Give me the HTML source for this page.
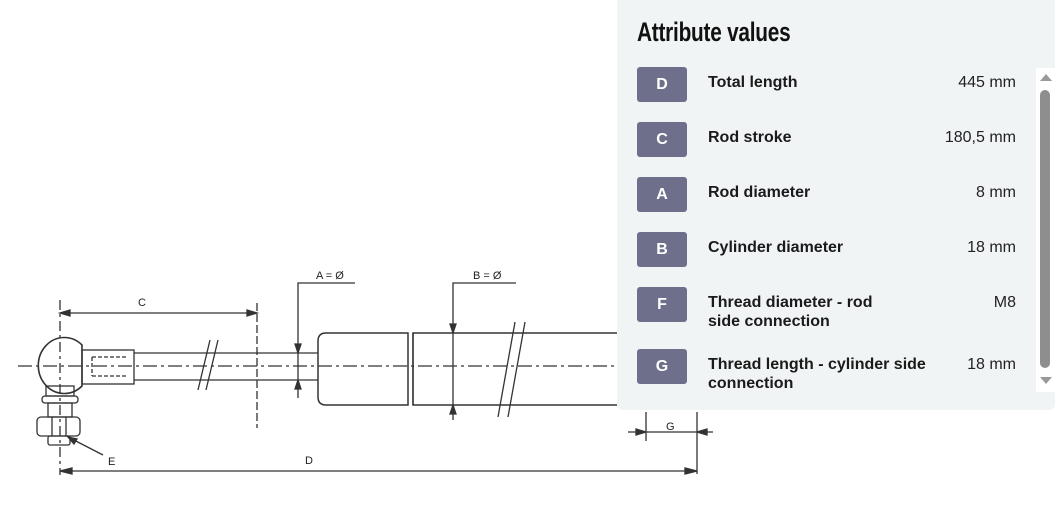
<!DOCTYPE html>
<html><head><meta charset="utf-8"><style>
html,body{margin:0;padding:0;background:#fff;width:1057px;height:520px;overflow:hidden;position:relative;font-family:"Liberation Sans",sans-serif}
svg{position:absolute;left:0;top:0}
.panel{position:absolute;left:617px;top:0;width:438px;height:410px;background:#f1f4f5;border-radius:0 0 6px 6px}
.title{position:absolute;left:20px;top:17px;font-size:27px;font-weight:bold;color:#111;font-family:"Liberation Sans Narrow","Liberation Sans",sans-serif;transform:scaleX(0.77);transform-origin:left top;letter-spacing:-0.3px}
.badge{position:absolute;left:20px;width:50px;height:35px;background:#6e6f8b;border-radius:3px;color:#fff;font-weight:bold;font-size:16px;text-align:center;line-height:36px}
.lab{position:absolute;left:91px;font-size:16px;font-weight:bold;color:#1a1a1a;line-height:19px}
.val{position:absolute;right:39px;font-size:16px;color:#222;line-height:19px;text-align:right}
.track{position:absolute;left:419px;top:68px;width:19px;height:324px;background:#fff}
.thumb{position:absolute;left:423px;top:90px;width:10px;height:278px;background:#8e8e8e;border-radius:5px}
</style></head><body>
<svg width="1057" height="520" viewBox="0 0 1057 520" fill="none" stroke="#333" stroke-width="1.3">
<line x1="18" y1="366" x2="617" y2="366" stroke-dasharray="14,4,3,4"/>
<path d="M82 345 A26 28 0 1 0 82 386 L82 345 Z" stroke-width="1.6"/>
<line x1="60" y1="300" x2="60" y2="475" stroke-dasharray="10,4,3,4"/>
<rect x="46" y="386" width="28" height="10"/>
<rect x="42" y="396" width="36" height="7" rx="3"/>
<rect x="48" y="403" width="24" height="14"/>
<rect x="37" y="417" width="43" height="19" rx="4"/>
<line x1="52" y1="417" x2="52" y2="436"/><line x1="66" y1="417" x2="66" y2="436"/>
<rect x="48" y="436" width="22" height="9" rx="2"/>
<rect x="82" y="350" width="52" height="34"/>
<path d="M92 357 H128 M92 376 H128 M92 357 V376" stroke-dasharray="4,2"/>
<line x1="134" y1="353" x2="318" y2="353"/><line x1="134" y1="380" x2="318" y2="380"/>
<line x1="198" y1="390" x2="210" y2="340"/><line x1="206" y1="390" x2="218" y2="340"/>
<path d="M617 333 H413 V405 H617 M408 333 H326 Q318 333 318 341 V397 Q318 405 326 405 H408 Z" stroke-width="1.5"/>
<line x1="413" y1="333" x2="413" y2="405"/>
<line x1="498" y1="417" x2="515" y2="322"/><line x1="508" y1="417" x2="525" y2="322"/>
<line x1="60" y1="313" x2="257" y2="313"/>
<path d="M60 313 l10 -3 v6 z M257 313 l-10 -3 v6 z" fill="#333"/>
<line x1="257" y1="303" x2="257" y2="428" stroke-dasharray="8,3"/>
<path d="M355 283 H298 V398"/>
<path d="M298 353 l-3 -9 h6 z M298 380 l-3 9 h6 z" fill="#333"/>
<path d="M516 283 H453 V420"/>
<path d="M453 333 l-3 -9 h6 z M453 405 l-3 9 h6 z" fill="#333"/>
<line x1="60" y1="471" x2="697" y2="471"/>
<path d="M60 471 l12 -3 v6 z M697 471 l-12 -3 v6 z" fill="#333"/>
<line x1="697" y1="412" x2="697" y2="474"/>
<line x1="628" y1="432" x2="713" y2="432"/>
<line x1="646" y1="412" x2="646" y2="441"/>
<path d="M646 432 l-10 -3 v6 z M697 432 l10 -3 v6 z" fill="#333"/>
<line x1="103" y1="455" x2="70" y2="438"/>
<path d="M68 437 l9 2 l-3 5 z" fill="#333"/>
<g font-family="Liberation Sans,sans-serif" font-size="11" fill="#222" stroke="none">
<text x="138" y="306">C</text>
<text x="316" y="279">A = Ø</text>
<text x="473" y="279">B = Ø</text>
<text x="305" y="464">D</text>
<text x="108" y="465">E</text>
<text x="666" y="430">G</text>
</g>
</svg>
<div class="panel">
<div class="title">Attribute values</div>
<div class="badge" style="top:67px">D</div><div class="lab" style="top:73px">Total length</div><div class="val" style="top:73px">445 mm</div>
<div class="badge" style="top:122px">C</div><div class="lab" style="top:128px">Rod stroke</div><div class="val" style="top:128px">180,5 mm</div>
<div class="badge" style="top:177px">A</div><div class="lab" style="top:183px">Rod diameter</div><div class="val" style="top:183px">8 mm</div>
<div class="badge" style="top:232px">B</div><div class="lab" style="top:238px">Cylinder diameter</div><div class="val" style="top:238px">18 mm</div>
<div class="badge" style="top:287px">F</div><div class="lab" style="top:293px">Thread diameter - rod<br>side connection</div><div class="val" style="top:293px">M8</div>
<div class="badge" style="top:349px">G</div><div class="lab" style="top:355px">Thread length - cylinder side<br>connection</div><div class="val" style="top:355px">18 mm</div>
<div class="track"></div>
<div class="thumb"></div>
<div style="position:absolute;left:423px;top:74px;width:0;height:0;border-left:6px solid transparent;border-right:6px solid transparent;border-bottom:7px solid #999"></div>
<div style="position:absolute;left:423px;top:377px;width:0;height:0;border-left:6px solid transparent;border-right:6px solid transparent;border-top:7px solid #999"></div>
</div>
</body></html>
